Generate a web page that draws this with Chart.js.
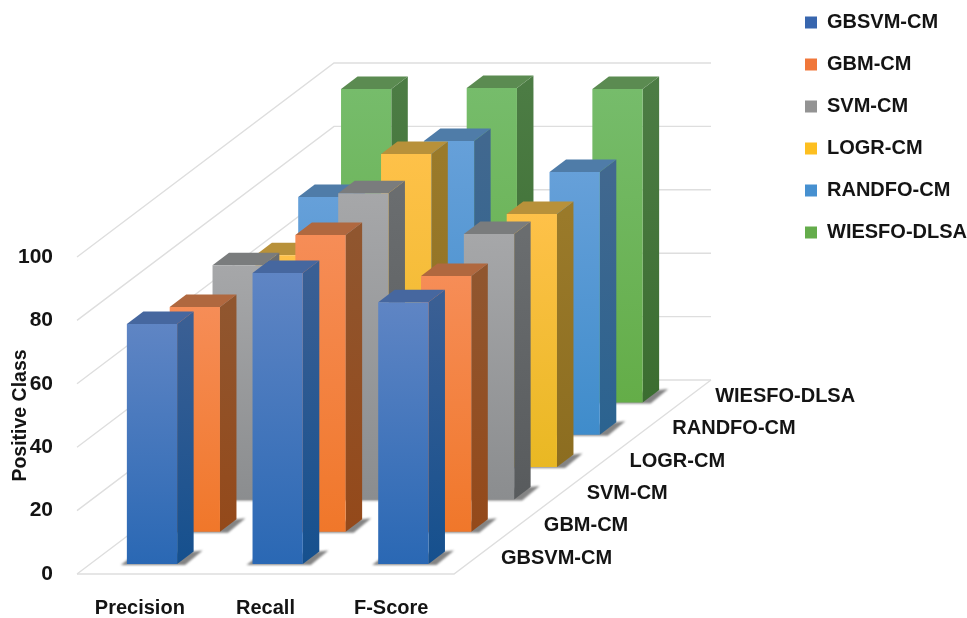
<!DOCTYPE html>
<html>
<head>
<meta charset="utf-8">
<title>Positive class scores by model</title>
<script src="https://cdn.jsdelivr.net/npm/chart.js@4"></script>
<style>
  html, body { margin: 0; padding: 0; background: #fff; }
  canvas { display: block; }
</style>
</head>
<body>
<canvas id="chart" width="967" height="618"></canvas>
<script>
const categories = ['Precision', 'Recall', 'F-Score'];
const seriesNames = ['GBSVM-CM', 'GBM-CM', 'SVM-CM', 'LOGR-CM', 'RANDFO-CM', 'WIESFO-DLSA'];

const gbsvmCm = [75.7, 91.8, 82.6];
const gbmCm = [70.9, 93.6, 80.7];
const svmCm = [73.9, 96.6, 83.7];
const logrCm = [66.8, 98.8, 79.8];
const randfoCm = [75.0, 92.7, 82.9];
const wiesfoDlsa = [98.9, 99.2, 98.9];

const seriesValues = [gbsvmCm, gbmCm, svmCm, logrCm, randfoCm, wiesfoDlsa];

// Legend swatch plus the shaded tones of each box: front, side and lid faces.
const swatches = ['#3866ae', '#f0773a', '#939393', '#fdbf20', '#4690d0', '#64ac4b'];
const faceTones = [
  { front: ['#5f85c4', '#2a68b4'], side: ['#3a5f94', '#15508e'], lid: '#46679f' },
  { front: ['#f68d57', '#f0772a'], side: ['#90562f', '#94491a'], lid: '#b0683f' },
  { front: ['#a6a7a9', '#8b8d8f'], side: ['#6a6d6f', '#585b5d'], lid: '#7a7c7d' },
  { front: ['#fec149', '#e9b823'], side: ['#9a7a2a', '#8c6d20'], lid: '#b8913a' },
  { front: ['#66a0d9', '#3f8ccb'], side: ['#41688f', '#2b6390'], lid: '#4f7ca8' },
  { front: ['#76bc6b', '#64ad48'], side: ['#4c7c44', '#3b6d30'], lid: '#5b8b51' }
];

// Oblique projection of the depth axis.
const FLOOR_SHIFT = { x: 257, y: 194 };
const ROW_STEP = { x: FLOOR_SHIFT.x / seriesNames.length, y: FLOOR_SHIFT.y / seriesNames.length };
const BOX_DEPTH = { x: 16.5, y: 12.5 };
const TEXT_COLOR = '#141414';
const FONT_FAMILY = '"Liberation Sans", Arial, sans-serif';

function rowOffset(row) {
  return {
    x: (ROW_STEP.x - BOX_DEPTH.x) / 2 - 1 + ROW_STEP.x * row,
    y: (ROW_STEP.y - BOX_DEPTH.y) / 2 + ROW_STEP.y * row
  };
}

function polygon(ctx, pts, fill) {
  ctx.beginPath();
  pts.forEach((p, i) => (i ? ctx.lineTo(p[0], p[1]) : ctx.moveTo(p[0], p[1])));
  ctx.closePath();
  ctx.fillStyle = fill;
  ctx.fill();
}

function verticalGradient(ctx, top, bottom, stops) {
  const g = ctx.createLinearGradient(0, top, 0, bottom);
  g.addColorStop(0, stops[0]);
  g.addColorStop(1, stops[1]);
  return g;
}

// Walls and floor behind the boxes, hung on the value scale's ticks.
const depthFrame = {
  id: 'depthFrame',
  beforeDatasetsDraw(chart) {
    const { ctx, chartArea, scales } = chart;
    const left = chartArea.left;
    const right = chartArea.right;
    const floorY = scales.y.getPixelForValue(0);
    ctx.save();
    ctx.strokeStyle = '#dedede';
    ctx.lineWidth = 1.4;
    scales.y.ticks.forEach(tick => {
      const y = scales.y.getPixelForValue(tick.value);
      ctx.beginPath();
      ctx.moveTo(left, y);
      ctx.lineTo(left + FLOOR_SHIFT.x, y - FLOOR_SHIFT.y);
      ctx.lineTo(right + FLOOR_SHIFT.x, y - FLOOR_SHIFT.y);
      ctx.stroke();
    });
    ctx.beginPath();
    ctx.moveTo(left, floorY);
    ctx.lineTo(right, floorY);
    ctx.lineTo(right + FLOOR_SHIFT.x, floorY - FLOOR_SHIFT.y);
    ctx.stroke();
    ctx.restore();
  }
};

// Replaces each flat bar with a shaded box pushed back along the depth axis.
const boxBars = {
  id: 'boxBars',
  beforeDatasetDraw(chart, args) {
    const { ctx } = chart;
    const row = args.index;
    const tones = faceTones[row];
    const off = rowOffset(row);
    const d = BOX_DEPTH;
    args.meta.data.forEach(bar => {
      const half = bar.width / 2;
      const L = bar.x - half + off.x;
      const R = bar.x + half + off.x;
      const T = bar.y - off.y;
      const B = bar.base - off.y;
      ctx.save();
      ctx.filter = 'blur(1px)';
      polygon(ctx, [[L - 6, B + 1], [L + 3, B - 6], [R + d.x + 9, B - d.y - 1], [R + 8, B + 1]], 'rgba(50,50,50,0.6)');
      ctx.restore();
      polygon(ctx, [[R, T], [R + d.x, T - d.y], [R + d.x, B - d.y], [R, B]],
        verticalGradient(ctx, T, B, tones.side));
      polygon(ctx, [[L, T], [L + d.x, T - d.y], [R + d.x, T - d.y], [R, T]], tones.lid);
      polygon(ctx, [[L, T], [R, T], [R, B], [L, B]],
        verticalGradient(ctx, T, B, tones.front));
    });
    return false;
  }
};

// Model names along the right edge of the floor, one beside each row.
const depthLabels = {
  id: 'depthLabels',
  afterDraw(chart) {
    const { ctx, chartArea, scales } = chart;
    const floorY = scales.y.getPixelForValue(0);
    ctx.save();
    ctx.font = 'bold 20px ' + FONT_FAMILY;
    ctx.fillStyle = TEXT_COLOR;
    ctx.textAlign = 'left';
    ctx.textBaseline = 'middle';
    seriesNames.forEach((name, row) => {
      ctx.fillText(name, chartArea.right + 47 + ROW_STEP.x * row, floorY - 16 - ROW_STEP.y * row);
    });
    ctx.restore();
  }
};

// Sets the legend column beside the plot, clear of the chart area.
const legendColumn = {
  id: 'legendColumn',
  afterLayout(chart) {
    const legend = chart.legend;
    legend.left = 783;
    legend.right = 967;
    legend.top = -9.5;
    legend.bottom = 618;
    legend.width = legend.right - legend.left;
    legend.height = legend.bottom - legend.top;
  }
};

new Chart(document.getElementById('chart'), {
  type: 'bar',
  data: {
    labels: categories,
    datasets: seriesNames.map((name, i) => ({
      label: name,
      data: seriesValues[i],
      backgroundColor: swatches[i],
      borderWidth: 0,
      grouped: false,
      categoryPercentage: 1,
      barPercentage: 0.4
    }))
  },
  plugins: [depthFrame, boxBars, depthLabels, legendColumn],
  options: {
    responsive: false,
    animation: false,
    layout: { padding: { top: 257, right: 513, bottom: 0, left: 0 } },
    plugins: {
      tooltip: { enabled: false },
      legend: {
        position: 'chartArea',
        align: 'start',
        labels: {
          boxWidth: 12,
          boxHeight: 12,
          padding: 22,
          color: TEXT_COLOR,
          font: { family: FONT_FAMILY, weight: 'bold', size: 20 }
        }
      }
    },
    scales: {
      x: {
        grid: { display: false, drawTicks: false },
        border: { display: false },
        ticks: {
          padding: 22,
          color: TEXT_COLOR,
          maxRotation: 0,
          font: { family: FONT_FAMILY, weight: 'bold', size: 20 }
        },
        afterFit(scale) { scale.height = 44; }
      },
      y: {
        min: 0,
        max: 100,
        grid: { display: false, drawTicks: false },
        border: { display: false },
        ticks: {
          stepSize: 20,
          padding: 24,
          color: TEXT_COLOR,
          font: { family: FONT_FAMILY, weight: 'bold', size: 21 }
        },
        title: {
          display: true,
          text: 'Positive Class',
          color: TEXT_COLOR,
          padding: { top: 9, bottom: 0 },
          font: { family: FONT_FAMILY, weight: 'bold', size: 19.5 }
        },
        afterFit(scale) { scale.width = 77; }
      }
    }
  }
});
</script>
</body>
</html>
